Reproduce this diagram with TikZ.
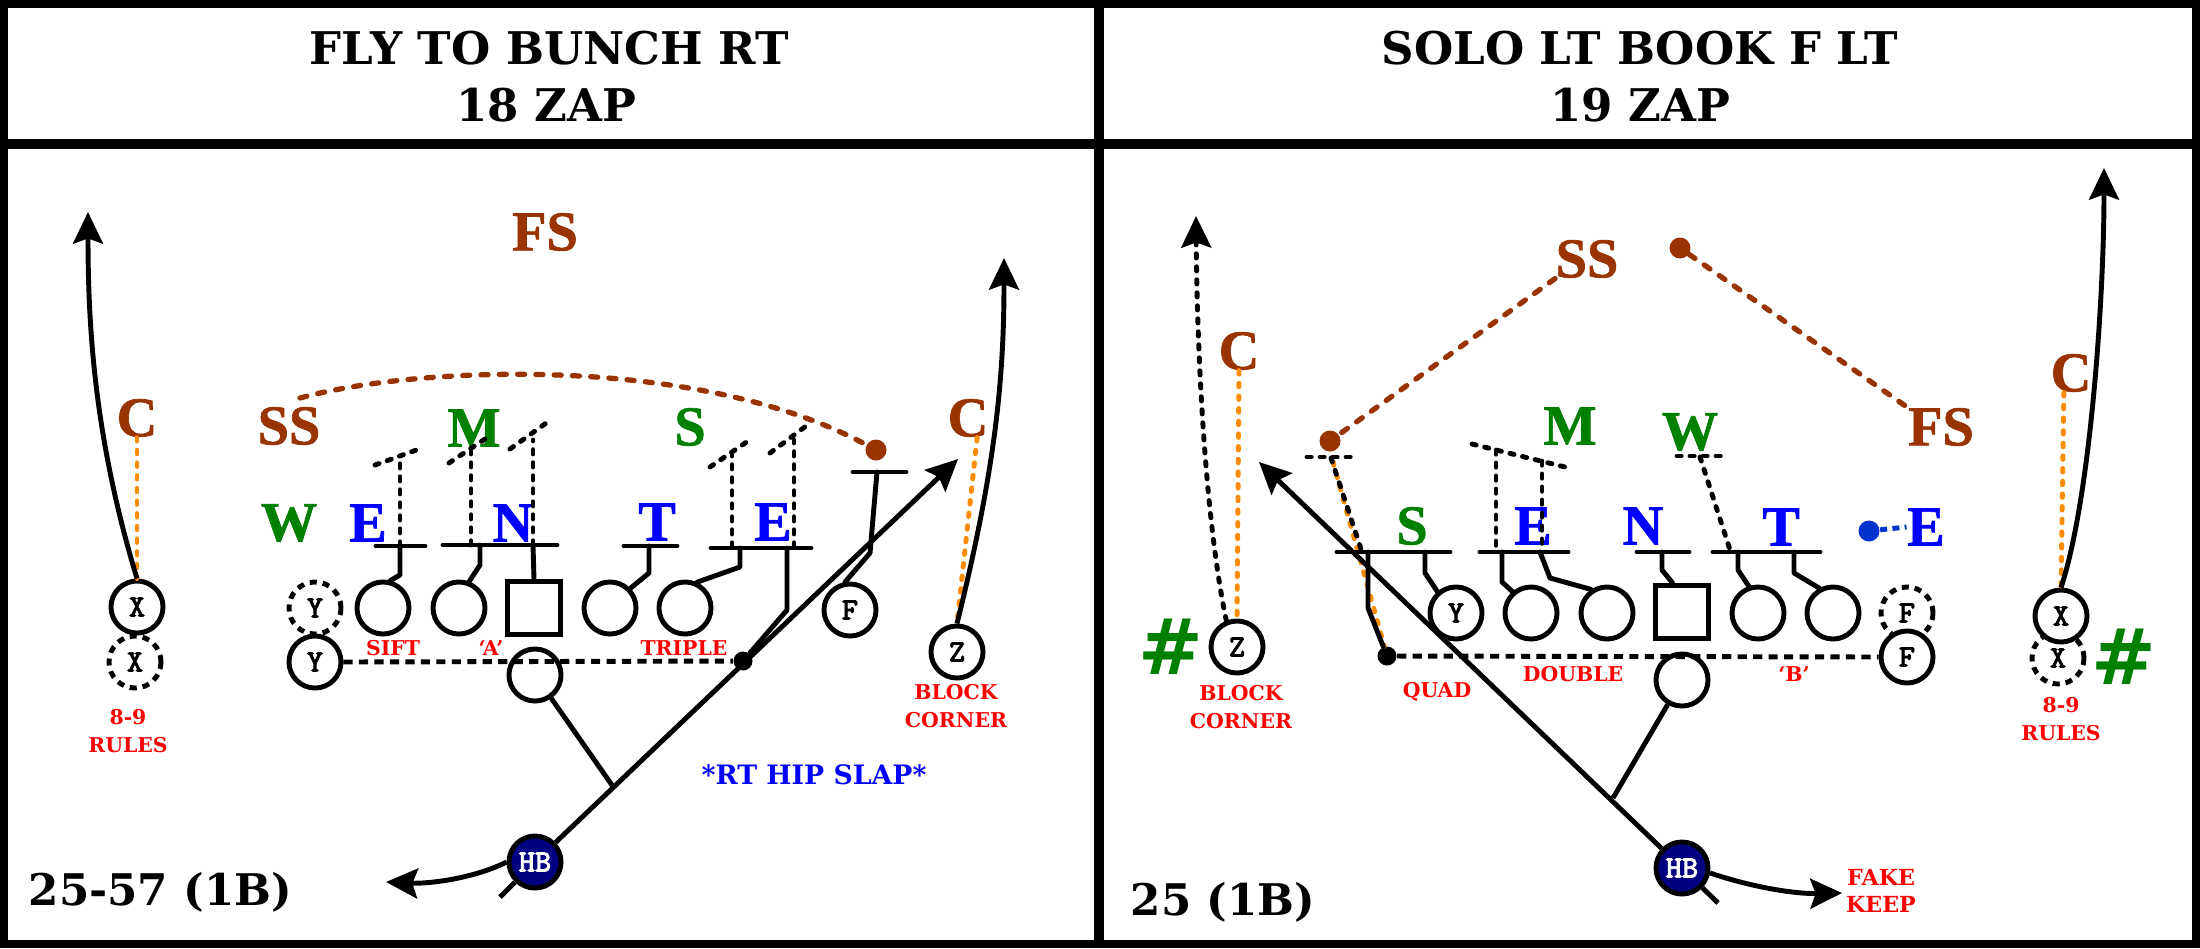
\documentclass[tikz,border=0pt]{standalone}
\usepackage{fontspec}
\setmainfont{DejaVu Serif}
\newfontfamily\tmsfont{Liberation Serif}[UprightFont=* Bold,BoldFont=* Bold,FakeBold=1.2]
\newfontfamily\monofnt{Latin Modern Mono}[FakeBold=2.5]
\newfontfamily\hashfont{DejaVu Sans}
\usetikzlibrary{arrows.meta}
\definecolor{brn}{RGB}{153,51,0}
\definecolor{grn}{RGB}{0,128,0}
\definecolor{blu}{RGB}{0,0,255}
\definecolor{redl}{RGB}{255,0,0}
\definecolor{org}{RGB}{255,140,0}
\definecolor{navyhb}{RGB}{0,0,128}
\definecolor{dotblue}{RGB}{0,51,204}
\begin{document}
\begin{tikzpicture}[x=0.01cm,y=-0.01cm,
 lw/.style={line width=1.4pt},
 player/.style={circle,draw,lw,fill=white,minimum size=0.52cm,inner sep=0pt,font=\monofnt\fontsize{8.8}{8.8}\selectfont},
 ghost/.style={player,dash pattern=on 2pt off 1.7pt},
 olc/.style={circle,draw,lw,minimum size=0.52cm,inner sep=0pt},
 ctr/.style={rectangle,draw,lw,minimum size=0.53cm,inner sep=0pt},
 dfn/.style={font=\tmsfont\fontsize{16}{16}\selectfont,inner sep=0pt},
 lbl/.style={text=redl,font=\bfseries\fontsize{5.8}{7.9}\selectfont,inner sep=0pt,align=center},
 ttl/.style={font=\bfseries\fontsize{12.8}{14}\selectfont,inner sep=0pt},
 playfont/.style={font=\bfseries\fontsize{12.4}{14}\selectfont,inner sep=0pt},
 hashmark/.style={text=grn,font=\hashfont\bfseries\fontsize{22}{22}\selectfont,inner sep=0pt},
 blockline/.style={lw,line cap=round,line join=round},
 readline/.style={lw,dash pattern=on 1.2pt off 2.5pt,line cap=round},
 los/.style={lw,dash pattern=on 2.6pt off 1.8pt},
 brownline/.style={brn,line width=1.5pt,dash pattern=on 2pt off 3.2pt,line cap=round},
 orangeline/.style={org,line width=1.4pt,dash pattern=on 1pt off 2.6pt,line cap=round},
 route/.style={lw,-{Stealth[length=9pt,width=8.5pt,inset=1.5pt]}},
 bdot/.style={circle,fill=brn,minimum size=0.21cm,inner sep=0pt},
 kdot/.style={circle,fill=black,minimum size=0.19cm,inner sep=0pt}
]
\useasboundingbox (0,0) rectangle (2200,948);
\fill[white] (0,0) rectangle (2200,948);
% ---------- frame ----------
\draw[line width=2.3pt] (4,4) rectangle (2196,944);
\draw[line width=2.8pt] (1099,4) -- (1099,944);
\draw[line width=2.7pt] (4,144) -- (2196,144);
% ---------- titles ----------
\node[ttl] (t1) at (549,48) {FLY TO BUNCH RT};
\node[ttl] (t2) at (546,105) {18 ZAP};
\node[ttl] (t3) at (1640,48) {SOLO LT BOOK F LT};
\node[ttl] (t4) at (1640,105) {19 ZAP};

% =================== LEFT PANEL ===================
\node[dfn,text=brn] (fsL) at (545,232) {FS};
\node[dfn,text=brn] (cL1) at (137,418) {C};
\node[dfn,text=brn] (ssL) at (289,426) {SS};
\node[dfn,text=grn] (mL) at (474,428) {M};
\node[dfn,text=grn] (sL) at (690,427) {S};
\node[dfn,text=brn] (cL2) at (968,418) {C};
\node[dfn,text=grn] (wL) at (289,523) {W};
\node[dfn,text=blu] (eL1) at (368,523) {E};
\node[dfn,text=blu] (nL) at (513,523) {N};
\node[dfn,text=blu] (tL) at (657,522) {T};
\node[dfn,text=blu] (eL2) at (773,522) {E};

\node[ghost] (yLg) at (315,608) {Y};
\node[player] (yL) at (315,662) {Y};
\node[player] (xL) at (137,607) {X};
\node[ghost] (xLg) at (135,662) {X};
\node[olc] (c1L) at (383,608) {};
\node[olc] (c2L) at (459,608) {};
\node[ctr] (sqL) at (534,608) {};
\node[olc] (c3L) at (610,608) {};
\node[olc] (c4L) at (685,608) {};
\node[olc] (qbL) at (535,675) {};
\node[player] (fL) at (850,610) {F};
\node[player] (zL) at (957,652) {Z};
\node[player,fill=navyhb,text=white] (hbL) at (535,862) {HB};
\node[kdot] (dotL) at (743,661) {};
\node[bdot] (bdL) at (876,450) {};

\coordinate (ssLc) at (300,398);
\coordinate (jL) at (614,788);
\coordinate (tipL) at (958,459);
\coordinate (tailL) at (500,897);
\coordinate (swL) at (386,882);
\coordinate (xtipL) at (88,212);
\coordinate (ztipL) at (1004,258);

% coverage lines
\draw[orangeline] (cL1.south) -- (xL.north);
\draw[orangeline] (cL2.-65) -- (zL.north);
\draw[brownline] (ssLc) .. controls (420,365) and (700,355) .. (bdL);

% reads
\draw[readline] (400,546) -- (400,457);
\draw[readline] (375,465) -- (422,448);
\draw[readline] (471,545) -- (471,452);
\draw[readline] (449,463) -- (491,435);
\draw[readline] (533,545) -- (533,440);
\draw[readline] (510,449) -- (549,421);
\draw[readline] (732,547) -- (732,455);
\draw[readline] (710,467) -- (751,439);
\draw[readline] (794,547) -- (794,440);
\draw[readline] (770,453) -- (810,423);

% blocks
\draw[blockline] (376,546) -- (425,546);
\draw[blockline] (400,546) -- (400,575) -- (c1L.75);
\draw[blockline] (443,545) -- (557,545);
\draw[blockline] (480,545) -- (480,565) -- (c2L.69);
\draw[blockline] (533,545) -- (sqL.north);
\draw[blockline] (624,546) -- (677,546);
\draw[blockline] (649,546) -- (649,573) -- (c3L.44);
\draw[blockline] (711,548) -- (811,548);
\draw[blockline] (740,548) -- (740,567) -- (c4L.65);
\draw[blockline] (787,548) -- (787,610) -- (dotL);
\draw[blockline] (853,472) -- (906,472);
\draw[blockline] (877,472) -- (870,553) -- (fL.100);

% line of scrimmage
\draw[los] (yL.east) -- (dotL);

% routes
\draw[route] (xL.north) .. controls (95,440) and (88,330) .. (xtipL);
\draw[route] (zL.north) .. controls (995,470) and (1004,380) .. (ztipL);
\draw[route] (hbL) -- (tipL);
\draw[lw] (hbL) -- (tailL);
\draw[lw] (qbL) -- (jL);
\draw[route] (hbL.west) .. controls (475,878) and (430,884) .. (swL);

% labels
\node[lbl] (siftL) at (393,648) {SIFT};
\node[lbl] (aL) at (491,648) {‘A’};
\node[lbl] (tripL) at (684,648) {TRIPLE};
\node[lbl] (rulesL) at (128,731) {8-9\\RULES};
\node[lbl] (blkL) at (956,706) {BLOCK\\CORNER};
\node[text=blu,font=\bfseries\fontsize{7.6}{8}\selectfont,inner sep=0pt] (hipL) at (814,775) {*RT HIP SLAP*};
\node[playfont,anchor=base west] (playL) at (28,905) {25-57 (1B)};

% =================== RIGHT PANEL ===================
\node[dfn,text=brn] (cR1) at (1239,351) {C};
\node[dfn,text=brn] (ssR) at (1587,259) {SS};
\node[dfn,text=grn] (mR) at (1570,426) {M};
\node[dfn,text=grn] (wR) at (1690,432) {W};
\node[dfn,text=brn] (fsR) at (1941,427) {FS};
\node[dfn,text=brn] (cR2) at (2071,373) {C};
\node[dfn,text=grn] (sR) at (1412,526) {S};
\node[dfn,text=blu] (eR1) at (1533,526) {E};
\node[dfn,text=blu] (nR) at (1643,526) {N};
\node[dfn,text=blu] (tR) at (1781,527) {T};
\node[dfn,text=blu] (eR2) at (1926,527) {E};
\node[hashmark] (h1) at (1171,647) {\#};
\node[hashmark] (h2) at (2124,657) {\#};

\node[player] (zR) at (1237,647) {Z};
\node[player] (yR) at (1456,613) {Y};
\node[olc] (c1R) at (1531,613) {};
\node[olc] (c2R) at (1607,613) {};
\node[ctr] (sqR) at (1682,612) {};
\node[olc] (c3R) at (1758,613) {};
\node[olc] (c4R) at (1833,613) {};
\node[ghost] (fRg) at (1907,613) {F};
\node[player] (fR) at (1907,657) {F};
\node[olc] (qbR) at (1682,680) {};
\node[ghost] (xRg) at (2058,658) {X};
\node[player] (xR) at (2061,616) {X};
\node[player,fill=navyhb,text=white] (hbR) at (1682,868) {HB};
\node[kdot] (dotR) at (1387,656) {};
\node[bdot] (bdR1) at (1330,441) {};
\node[bdot] (bdR2) at (1680,248) {};
\node[circle,fill=dotblue,minimum size=0.21cm,inner sep=0pt] (blR) at (1869,531) {};

\coordinate (tipR) at (1259,462);
\coordinate (tailR) at (1718,903);
\coordinate (jR) at (1613,798);
\coordinate (swR) at (1842,893);
\coordinate (ztipR) at (1196,216);
\coordinate (xtipR) at (2104,168);

% coverage lines
\draw[orangeline] (cR1.south) -- (zR.north);
\draw[orangeline] (cR2.-110) -- (xR.north);
\draw[brownline] (ssR.south west) -- (bdR1);
\draw[brownline] (bdR2) -- (fsR.north west);
\draw[dotblue,lw,dash pattern=on 2pt off 1.5pt] (blR) -- (eR2.west);

% reads
\draw[orangeline] (1333,462) -- (dotR);
\draw[readline] (1307,457) -- (1355,457);
\draw[readline] (1331,458) -- (1362,552);
\draw[readline] (1472,444) -- (1565,467);
\draw[readline] (1496,450) -- (1496,552);
\draw[readline] (1542,461) -- (1542,552);
\draw[readline] (1677,456) -- (1727,456);
\draw[readline] (1700,457) -- (1730,550);

% blocks
\draw[blockline] (1337,552) -- (1450,552);
\draw[blockline] (1368,552) -- (1368,608) -- (dotR);
\draw[blockline] (1425,552) -- (1425,573) -- (yR.131);
\draw[blockline] (1480,552) -- (1568,552);
\draw[blockline] (1502,552) -- (1502,582) -- (c1R.131);
\draw[blockline] (1540,552) -- (1550,578) -- (c2R.124);
\draw[blockline] (1637,552) -- (1689,552);
\draw[blockline] (1662,552) -- (1662,570) -- (sqR.108);
\draw[blockline] (1713,552) -- (1820,552);
\draw[blockline] (1738,552) -- (1738,570) -- (c3R.109);
\draw[blockline] (1794,552) -- (1794,573) -- (c4R.119);

% line of scrimmage
\draw[los] (dotR) -- (fR.west);

% routes
\draw[route,dash pattern=on 1.2pt off 2.5pt,line cap=round] (zR.112) .. controls (1205,520) and (1197,350) .. (ztipR);
\draw[route] (xR.north) .. controls (2090,500) and (2104,300) .. (xtipR);
\draw[route] (hbR) -- (tipR);
\draw[lw] (hbR) -- (tailR);
\draw[lw] (qbR) -- (jR);
\draw[route] (hbR.-10) .. controls (1745,885) and (1790,894) .. (swR);

% labels
\node[lbl] (blkR) at (1241,707) {BLOCK\\CORNER};
\node[lbl] (quadR) at (1437,692) {QUAD};
\node[lbl] (dblR) at (1573,674) {DOUBLE};
\node[lbl] (bR) at (1794,674) {‘B’};
\node[lbl] (rulesR) at (2061,719) {8-9\\RULES};
\node[lbl,font=\bfseries\fontsize{6.3}{7.9}\selectfont] (fakeR) at (1881,891) {FAKE\\KEEP};
\node[playfont,anchor=base west] (playR) at (1130,915) {25 (1B)};
\end{tikzpicture}
\end{document}
